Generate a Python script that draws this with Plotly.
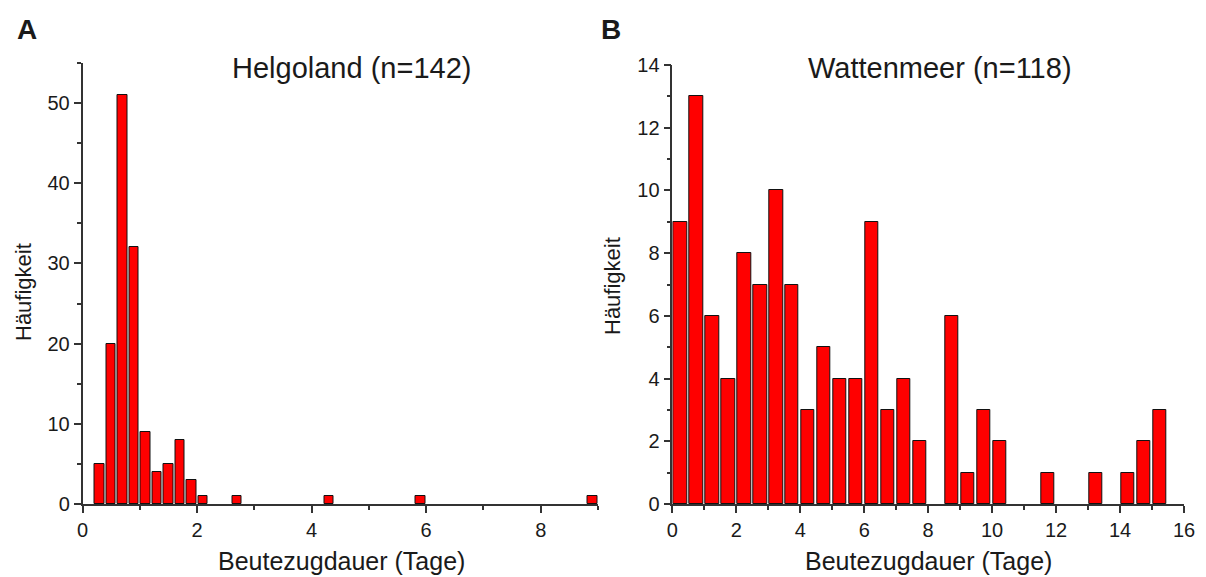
import plotly.graph_objects as go

# Helgoland histogram (bin width 0.2 days)
helgo_x = [0.3, 0.5, 0.7, 0.9, 1.1, 1.3, 1.5, 1.7, 1.9, 2.1, 2.7, 4.3, 5.9, 8.9]
helgo_y = [5, 20, 51, 32, 9, 4, 5, 8, 3, 1, 1, 1, 1, 1]

# Wattenmeer histogram (bin width 0.5 days)
watt_x = [0.25, 0.75, 1.25, 1.75, 2.25, 2.75, 3.25, 3.75, 4.25, 4.75, 5.25, 5.75,
          6.25, 6.75, 7.25, 7.75, 8.75, 9.25, 9.75, 10.25, 11.75, 13.25, 14.25, 14.75, 15.25]
watt_y = [9, 13, 6, 4, 8, 7, 10, 7, 3, 5, 4, 4,
          9, 3, 4, 2, 6, 1, 3, 2, 1, 1, 1, 2, 3]

W, H = 1206, 577
FONT = "Liberation Sans, Arial, sans-serif"
TXT = "#1a1a1a"
AX = "#333333"

def fx(px):
    return px / W

def fy(py):
    return (H - py) / H

fig = go.Figure()
fig.add_trace(go.Bar(x=helgo_x, y=helgo_y, width=0.165, xaxis="x", yaxis="y",
                     marker=dict(color="#ff0000", line=dict(color="#111111", width=1)),
                     showlegend=False))
fig.add_trace(go.Bar(x=watt_x, y=watt_y, width=0.41, xaxis="x2", yaxis="y2",
                     marker=dict(color="#ff0000", line=dict(color="#111111", width=1)),
                     showlegend=False))

ax_common = dict(showgrid=False, zeroline=False, showline=True, linecolor=AX, linewidth=1.5,
                 ticks="outside", ticklen=7, tickwidth=1.5, tickcolor=AX, automargin=False,
                 tickfont=dict(family=FONT, size=20, color=TXT))

def minor(d):
    return dict(dtick=d, tick0=0, ticklen=4, tickwidth=1.5, tickcolor=AX, ticks="outside")

fig.update_layout(
    width=W, height=H,
    margin=dict(l=0, r=0, t=0, b=0, pad=0, autoexpand=False),
    paper_bgcolor="white", plot_bgcolor="white",
    bargap=0,
    xaxis=dict(domain=[fx(82.5), fx(598)], range=[0, 9], dtick=2, tick0=0,
               minor=minor(1), anchor="y", **ax_common),
    yaxis=dict(domain=[fy(504), fy(63)], range=[0, 55], dtick=10, tick0=0,
               minor=minor(5), anchor="x", **ax_common),
    xaxis2=dict(domain=[fx(672.3), fx(1184)], range=[0, 16], dtick=2, tick0=0,
                minor=minor(1), anchor="y2", **ax_common),
    yaxis2=dict(domain=[fy(504), fy(65)], range=[0, 14], dtick=2, tick0=0,
                minor=minor(1), anchor="x2", **ax_common),
)

def ann(text, x, y, size, bold=False, angle=0):
    fig.add_annotation(text=f"<b>{text}</b>" if bold else text, x=fx(x), y=fy(y),
                       xref="paper", yref="paper", showarrow=False, textangle=angle,
                       xanchor="center", yanchor="middle",
                       font=dict(family=FONT, size=size, color=TXT))

ann("A", 27, 29, 28, bold=True)
ann("B", 611, 29, 28, bold=True)
ann("Helgoland (n=142)", 351, 68, 29)
ann("Wattenmeer (n=118)", 940, 68, 29)
ann("Häufigkeit", 24, 292, 22, angle=-90)
ann("Häufigkeit", 612, 286, 22, angle=-90)
ann("Beutezugdauer (Tage)", 341, 561, 25)
ann("Beutezugdauer (Tage)", 928, 561, 25)

fig.write_html("out.html")
